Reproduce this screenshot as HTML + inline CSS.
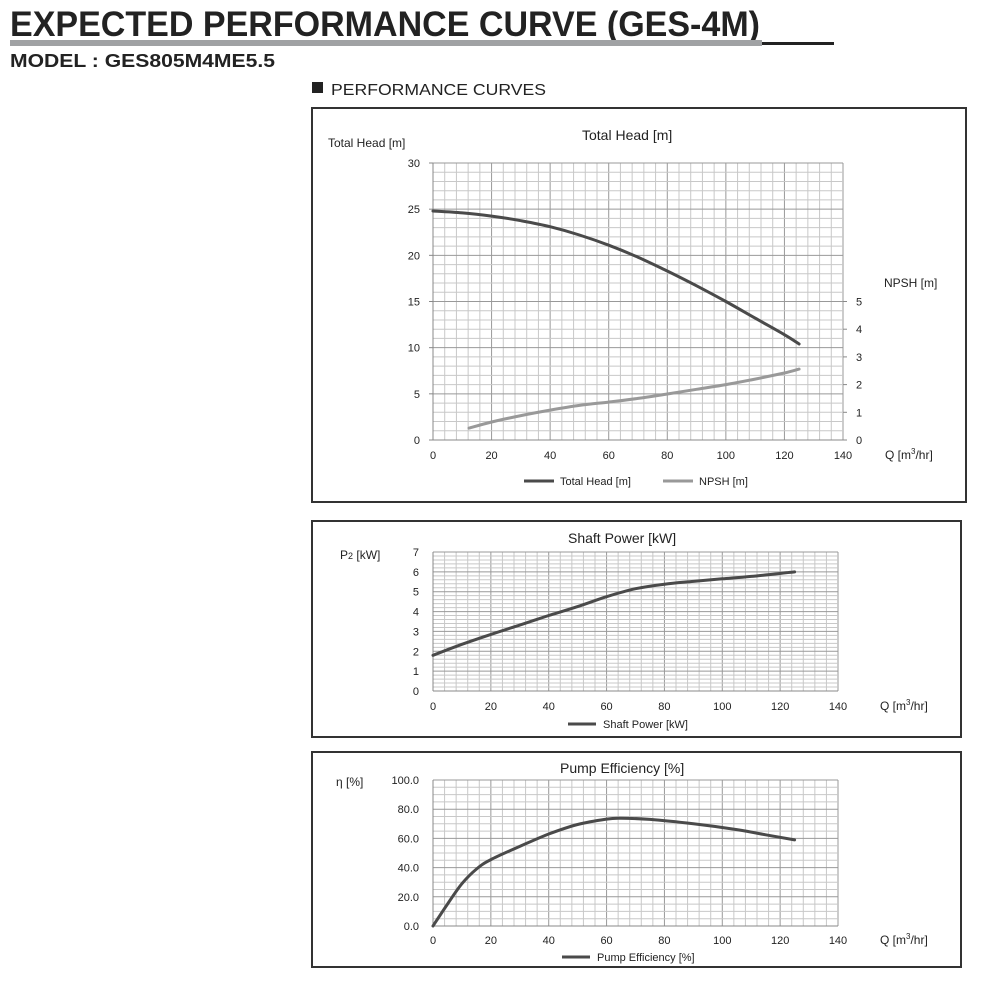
<!DOCTYPE html>
<html><head><meta charset="utf-8"><style>
html,body{margin:0;padding:0;background:#fff;width:1000px;height:1000px;overflow:hidden}
svg{position:absolute;left:0;top:0}
text{font-family:"Liberation Sans",sans-serif;fill:#222}
</style></head><body>
<svg id="s" width="1000" height="1000" xmlns="http://www.w3.org/2000/svg">
<text x="10" y="36" font-size="35" font-weight="bold" fill="#222" textLength="750" lengthAdjust="spacingAndGlyphs">EXPECTED PERFORMANCE CURVE (GES-4M)</text>
<rect x="10" y="40" width="752" height="6" fill="#a0a2a4"/>
<rect x="762" y="42" width="72" height="3" fill="#222"/>
<text x="10" y="67" font-size="18" font-weight="bold" textLength="265" lengthAdjust="spacingAndGlyphs">MODEL : GES805M4ME5.5</text>
<rect x="312" y="82" width="11" height="11" fill="#222"/>
<text x="331" y="95" font-size="16" textLength="215" lengthAdjust="spacingAndGlyphs">PERFORMANCE CURVES</text>
<g id="g"></g>
</svg>
<script>
var g=document.getElementById('g'),o='';
function L(x1,y1,x2,y2,c,w){o+='<line x1="'+x1+'" y1="'+y1+'" x2="'+x2+'" y2="'+y2+'" stroke="'+c+'" stroke-width="'+w+'"/>';}
function T(x,y,t,s,a){o+='<text x="'+x+'" y="'+y+'" font-size="'+(s||12)+'" text-anchor="'+(a||'start')+'">'+t+'</text>';}
function grid(x0,x1,y0,y1,nx){for(var i=0;i<=nx;i++){var x=x0+(x1-x0)*i/nx;L(x,y1,x,y0,i%5==0?'#999':'#c8c8c8',1);}}
function hgrid(x0,x1,y0,y1,ny,major){for(var j=0;j<=ny;j++){var y=y0+(y1-y0)*j/ny;L(x0,y,x1,y,j%major==0?'#999':'#c8c8c8',1);}}
function curve(pts,fx,fy,c,w){var P=pts.map(function(p){return [fx(p[0]),fy(p[1])];});
 var d='M'+P[0][0].toFixed(1)+','+P[0][1].toFixed(1);
 for(var i=0;i<P.length-1;i++){var p0=P[i-1]||P[i],p1=P[i],p2=P[i+1],p3=P[i+2]||P[i+1];
  var c1=[p1[0]+(p2[0]-p0[0])/6,p1[1]+(p2[1]-p0[1])/6],c2=[p2[0]-(p3[0]-p1[0])/6,p2[1]-(p3[1]-p1[1])/6];
  d+='C'+c1[0].toFixed(1)+','+c1[1].toFixed(1)+' '+c2[0].toFixed(1)+','+c2[1].toFixed(1)+' '+p2[0].toFixed(1)+','+p2[1].toFixed(1);}
 o+='<path d="'+d+'" fill="none" stroke="'+c+'" stroke-width="'+w+'" stroke-linejoin="round" stroke-linecap="round"/>';}
o+='<rect x="312" y="108" width="654" height="394" fill="none" stroke="#333" stroke-width="2"/>';
o+='<rect x="312" y="521" width="649" height="216" fill="none" stroke="#333" stroke-width="2"/>';
o+='<rect x="312" y="752" width="649" height="215" fill="none" stroke="#333" stroke-width="2"/>';
var ax=433,bx=843,ay=440,by=163;
grid(ax,bx,ay,by,35);hgrid(ax,bx,ay,by,30,5);
L(ax,by,ax,ay,'#888',1);L(ax,ay,bx,ay,'#888',1);
for(var i=0;i<=6;i++){var y=ay-(ay-by)*i/6;L(ax-4,y,ax,y,'#888',1);T(420,y+4,i*5,11,'end');}
for(var i=0;i<=5;i++){var y=440-27.7*i;L(bx,y,bx+4,y,'#888',1);T(856,y+4,i,11);}
for(var i=0;i<=7;i++){var x=ax+(bx-ax)*i/7;T(x,459,i*20,11,'middle');}
T(582,140,'Total Head [m]',14);T(328,147,'Total Head [m]',12);T(884,287,'NPSH [m]',12);
T(885,459,'Q [m<tspan font-size="8" dy="-5">3</tspan><tspan dy="5">/hr]</tspan>',12);
var fx1=function(q){return ax+(bx-ax)*q/140},fy1=function(h){return ay-(ay-by)*h/30},fn=function(n){return 440-27.7*n};
curve([[0,24.8],[10,24.6],[20,24.25],[30,23.75],[40,23.1],[50,22.2],[60,21.1],[70,19.8],[80,18.3],[90,16.7],[100,15],[110,13.2],[120,11.4],[125,10.4]],fx1,fy1,'#4a4a4a',3);
curve([[12.3,0.43],[20,0.65],[30,0.88],[40,1.08],[50,1.25],[60,1.37],[70,1.5],[80,1.66],[90,1.83],[100,2.0],[110,2.2],[120,2.42],[125,2.56]],fx1,fn,'#999',3);
L(524,481,554,481,'#4a4a4a',3);T(560,485,'Total Head [m]',11);
L(663,481,693,481,'#999',3);T(699,485,'NPSH [m]',11);
var cx=433,dx=838,cy=691,dy=552;
grid(cx,dx,cy,dy,35);hgrid(cx,dx,cy,dy,35,5);
L(cx,dy,cx,cy,'#888',1);L(cx,cy,dx,cy,'#888',1);
for(var i=0;i<=7;i++){var y=cy-(cy-dy)*i/7;T(419,y+4,i,11,'end');}
for(var i=0;i<=7;i++){var x=cx+(dx-cx)*i/7;T(x,710,i*20,11,'middle');}
T(568,543,'Shaft Power [kW]',14);T(340,559,'P<tspan font-size="9">2</tspan> [kW]',12);
T(880,710,'Q [m<tspan font-size="8" dy="-5">3</tspan><tspan dy="5">/hr]</tspan>',12);
var fx2=function(q){return cx+(dx-cx)*q/140},fy2=function(p){return cy-(cy-dy)*p/7};
curve([[0,1.8],[10,2.35],[20,2.85],[30,3.32],[40,3.8],[50,4.25],[60,4.75],[70,5.15],[80,5.38],[90,5.52],[100,5.65],[110,5.77],[125,6.0]],fx2,fy2,'#4a4a4a',3);
L(568,724,596,724,'#4a4a4a',3);T(603,728,'Shaft Power [kW]',11);
var ex=433,fxR=838,ey=926,fyT=780;
grid(ex,fxR,ey,fyT,35);hgrid(ex,fxR,ey,fyT,20,4);
L(ex,fyT,ex,ey,'#888',1);L(ex,ey,fxR,ey,'#888',1);
for(var i=0;i<=5;i++){var y=ey-(ey-fyT)*i/5;T(419,y+4,(i*20)+'.0',11,'end');}
for(var i=0;i<=7;i++){var x=ex+(fxR-ex)*i/7;T(x,944,i*20,11,'middle');}
T(560,773,'Pump Efficiency [%]',14);T(336,786,'η [%]',12);
T(880,944,'Q [m<tspan font-size="8" dy="-5">3</tspan><tspan dy="5">/hr]</tspan>',12);
var fx3=function(q){return ex+(fxR-ex)*q/140},fy3=function(e){return ey-(ey-fyT)*e/100};
curve([[0,0],[5,15],[10,29],[15,39],[20,45.5],[30,54.5],[40,63],[50,69.5],[60,73.2],[65,73.8],[75,73],[90,70],[105,66],[115,62.5],[125,59]],fx3,fy3,'#4a4a4a',3);
L(562,957,590,957,'#4a4a4a',3);T(597,961,'Pump Efficiency [%]',11);
g.innerHTML=o;
</script>
</body></html>
